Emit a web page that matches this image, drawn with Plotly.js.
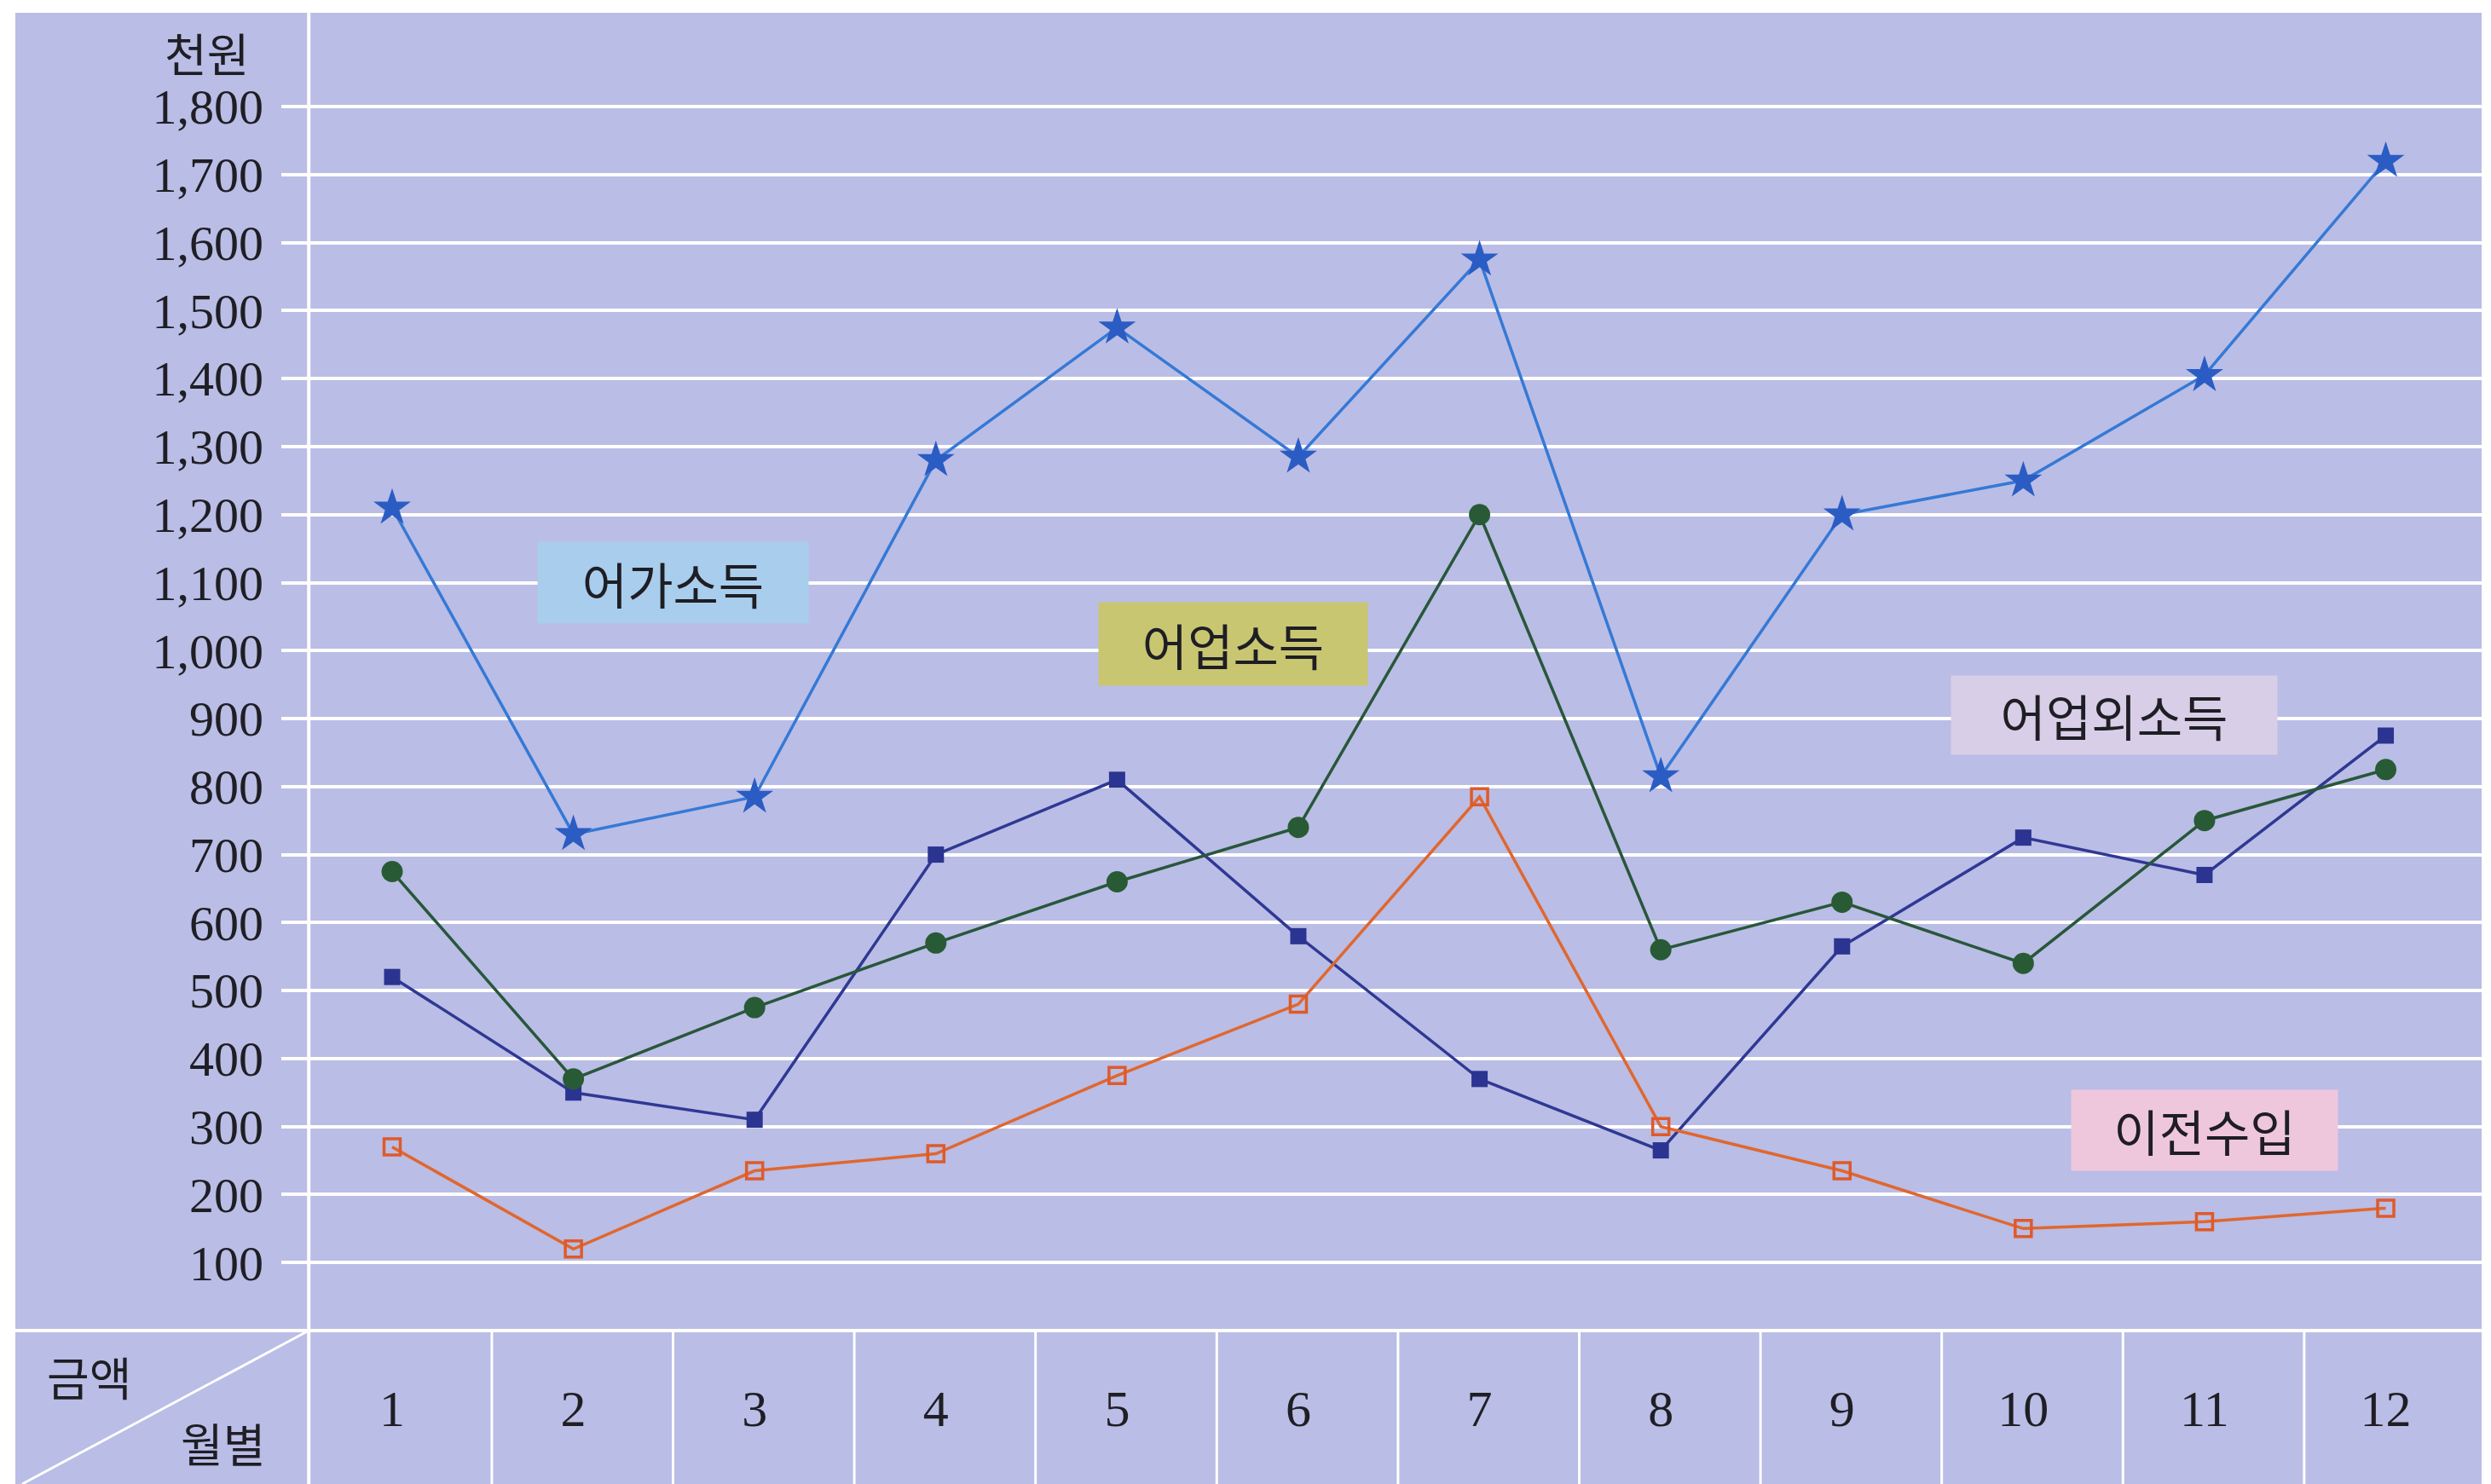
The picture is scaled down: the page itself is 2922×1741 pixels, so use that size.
<!DOCTYPE html>
<html>
<head>
<meta charset="utf-8">
<script src="https://cdn.plot.ly/plotly-3.0.1.min.js"></script>
<style>html,body{margin:0;padding:0;background:#fff;}#chart{width:2922px;height:1741px;}</style>
</head>
<body>
<div id="chart"></div>
<script>
// ---- data ----
const months = [1, 2, 3, 4, 5, 6, 7, 8, 9, 10, 11, 12];
const monthLabels = ['1', '2', '3', '4', '5', '6', '7', '8', '9', '10', '11', '12'];
const yTicks = [100, 200, 300, 400, 500, 600, 700, 800, 900, 1000, 1100, 1200, 1300, 1400, 1500, 1600, 1700, 1800];
const householdIncome = [1210, 730, 785, 1280, 1475, 1285, 1575, 815, 1200, 1250, 1405, 1720];   // 어가소득
const fishingIncome = [675, 370, 475, 570, 660, 740, 1200, 560, 630, 540, 750, 825];            // 어업소득
const nonFishingIncome = [520, 350, 310, 700, 810, 580, 370, 265, 565, 725, 670, 875];          // 어업외소득
const transferIncome = [270, 120, 235, 260, 375, 480, 785, 300, 235, 150, 160, 180];           // 이전수입
const seriesNames = ['어가소득', '어업소득', '어업외소득', '이전수입'];

// ---- layout geometry ----
const W = 2922, H = 1741;
const M = {l: 330, r: 11, t: 15, b: 180};
const xRange = [0.3885, 12.529];
const yRange = [0, 1938];
const pw = W - M.l - M.r, ph = H - M.t - M.b;
const px = p => (p - M.l) / pw;           // pixel x -> paper x
const py = p => (H - M.b - p) / ph;       // pixel y -> paper y
const dx = v => (v - xRange[0]) / (xRange[1] - xRange[0]);   // data x -> paper x

const BG = '#babde5';
const serif = '"Liberation Serif", "DejaVu Serif", serif';
const kr = '"Noto Sans CJK KR", "Noto Sans", sans-serif';
const txt = '#1e1e24';

const traces = [
  {x: months, y: nonFishingIncome, name: seriesNames[2], mode: 'lines+markers', type: 'scatter',
   line: {color: '#2f3894', width: 3.5}, marker: {symbol: 'square', size: 19, color: '#2b3490'}},
  {x: months, y: fishingIncome, name: seriesNames[1], mode: 'lines+markers', type: 'scatter',
   line: {color: '#28573a', width: 3.5}, marker: {symbol: 'circle', size: 25, color: '#285b35'}},
  {x: months, y: transferIncome, name: seriesNames[3], mode: 'lines+markers', type: 'scatter',
   line: {color: '#e0672f', width: 3.5}, marker: {symbol: 'square-open', size: 19, color: '#de5a2a', line: {width: 3.5, color: '#de5a2a'}}},
  {x: months, y: householdIncome, name: seriesNames[0], mode: 'lines+markers', type: 'scatter',
   line: {color: '#3579d6', width: 3.5}, marker: {symbol: 'star', size: 33, color: '#2a5cc4'}}
];

const white = {color: '#ffffff', width: 4};
const shapes = [
  // white page margins
  {type: 'rect', xref: 'paper', yref: 'paper', x0: px(0), x1: px(18), y0: py(H), y1: py(0), fillcolor: '#fff', line: {width: 0}, layer: 'above'},
  {type: 'rect', xref: 'paper', yref: 'paper', x0: px(0), x1: px(W), y0: py(15), y1: py(0), fillcolor: '#fff', line: {width: 0}, layer: 'above'},
  {type: 'rect', xref: 'paper', yref: 'paper', x0: px(2911), x1: px(W), y0: py(H), y1: py(0), fillcolor: '#fff', line: {width: 0}, layer: 'above'},
  // main vertical separator
  {type: 'line', xref: 'paper', yref: 'paper', x0: dx(0.54), x1: dx(0.54), y0: py(H), y1: py(15), line: white, layer: 'below'},
  // table top line
  {type: 'line', xref: 'paper', yref: 'paper', x0: px(18), x1: px(2911), y0: 0, y1: 0, line: white, layer: 'below'},
  // diagonal in header cell
  {type: 'line', xref: 'paper', yref: 'paper', x0: dx(0.54), x1: px(26), y0: 0, y1: py(H), line: {color: '#fff', width: 3}, layer: 'below'}
];
months.slice(0, 11).forEach(m => {
  shapes.push({type: 'line', xref: 'paper', yref: 'paper', x0: dx(m + 0.55), x1: dx(m + 0.55), y0: 0, y1: py(H), line: {color: '#fff', width: 3}, layer: 'below'});
});

const boxFont = {family: kr, size: 58, color: txt};
const lbl = {showarrow: false, xref: 'paper', yref: 'paper', xanchor: 'center', yanchor: 'middle', font: {family: kr, size: 54, color: txt}};
const annotations = [
  {x: 2.55, y: 1100, xref: 'x', yref: 'y', text: seriesNames[0], showarrow: false, font: boxFont, bgcolor: '#a9cdec', width: 315, height: 93},
  {x: 5.64, y: 1010, xref: 'x', yref: 'y', text: seriesNames[1], showarrow: false, font: boxFont, bgcolor: '#c9c672', width: 313, height: 95},
  {x: 10.5, y: 905, xref: 'x', yref: 'y', text: seriesNames[2], showarrow: false, font: boxFont, bgcolor: '#d8cee7', width: 380, height: 90},
  {x: 11.0, y: 295, xref: 'x', yref: 'y', text: seriesNames[3], showarrow: false, font: boxFont, bgcolor: '#efc7dd', width: 310, height: 92},
  Object.assign({x: px(242), y: py(62), text: '천원'}, lbl),
  Object.assign({x: px(104), y: py(1614), text: '금액'}, lbl),
  Object.assign({x: px(261), y: py(1692), text: '월별'}, lbl)
];

const layout = {
  width: W, height: H,
  margin: M,
  paper_bgcolor: BG,
  plot_bgcolor: 'rgba(0,0,0,0)',
  showlegend: false,
  xaxis: {
    range: xRange, tickvals: months, ticktext: monthLabels, showgrid: false, zeroline: false,
    ticks: '', showline: false, ticklabelstandoff: 51,
    tickfont: {family: serif, size: 60, color: txt}
  },
  yaxis: {
    range: yRange, tickvals: yTicks, tickformat: ',', showgrid: true, gridcolor: '#ffffff', gridwidth: 4,
    zeroline: false, ticks: '', showline: false, ticklabelstandoff: 20,
    tickfont: {family: serif, size: 58, color: txt}
  },
  shapes: shapes,
  annotations: annotations
};

Plotly.newPlot('chart', traces, layout, {staticPlot: true, displayModeBar: false});
</script>
</body>
</html>
